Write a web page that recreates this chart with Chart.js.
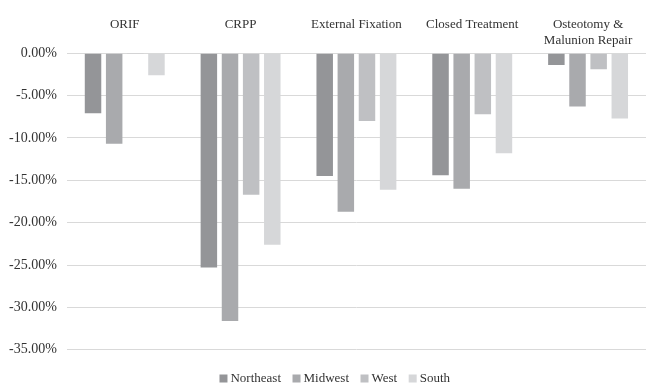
<!DOCTYPE html>
<html>
<head>
<meta charset="utf-8">
<script src="https://cdn.jsdelivr.net/npm/chart.js@4/dist/chart.umd.min.js"></script>
<style>
  html, body { margin: 0; padding: 0; background: #fff; }
  #wrap { width: 646px; height: 383px; }
</style>
</head>
<body>
<div id="wrap"><canvas id="region-chart"></canvas></div>
<script>
const categories = ['ORIF', 'CRPP', 'External Fixation', 'Closed Treatment', ['Osteotomy &', 'Malunion Repair']];
const northeast = [-7.1, -25.3, -14.5, -14.4, -1.4];
const midwest = [-10.7, -31.6, -18.7, -16.0, -6.3];
const west = [-0.1, -16.7, -8.0, -7.2, -1.9];
const south = [-2.6, -22.6, -16.1, -11.8, -7.7];
const seriesNames = ['Northeast', 'Midwest', 'West', 'South'];
const seriesColors = ['#949598', '#a9aaad', '#bfc0c3', '#d6d7d9'];

const serif = 'Liberation Serif, Times New Roman, serif';

// legend in the original sits a little right of the page centre
const legendShift = {
    id: 'legendShift',
    afterLayout(chart) {
        chart.legend.left += 14;
        chart.legend.right += 14;
    }
};

const ctx = document.getElementById('region-chart').getContext('2d');
const chart = new Chart(ctx, {
    type: 'bar',
    data: {
        labels: categories,
        datasets: [northeast, midwest, west, south].map((vals, i) => ({
            label: seriesNames[i],
            data: vals,
            backgroundColor: seriesColors[i],
            borderWidth: 0,
            categoryPercentage: 0.73,
            barPercentage: 0.78
        }))
    },
    options: {
        responsive: true,
        maintainAspectRatio: false,
        animation: false,
        layout: {
            padding: { top: 12, left: -1, right: 0, bottom: -12 }
        },
        plugins: {
            legend: {
                position: 'bottom',
                // empty title only adds a gap between the plot and the legend items
                title: { display: true, text: '', padding: 0, font: { size: 6 } },
                labels: {
                    font: { family: serif, size: 13 },
                    color: '#333',
                    usePointStyle: true,
                    pointStyle: 'rect',
                    boxWidth: 1,
                    boxHeight: 8,
                    padding: 15
                }
            },
            tooltip: { enabled: false }
        },
        scales: {
            x: {
                position: 'top',
                grid: { display: false, drawTicks: false },
                border: { display: false },
                ticks: {
                    crossAlign: 'far',
                    padding: 5,
                    font: { family: serif, size: 13 },
                    color: '#333',
                    maxRotation: 0
                }
            },
            y: {
                min: -35,
                max: 0,
                grid: { color: '#d9d9d9', drawTicks: false },
                border: { display: false },
                ticks: {
                    stepSize: 5,
                    padding: 10,
                    font: { family: serif, size: 14 },
                    color: '#333',
                    callback: v => v.toFixed(2) + '%'
                }
            }
        }
    },
    plugins: [legendShift]
});
</script>
</body>
</html>
